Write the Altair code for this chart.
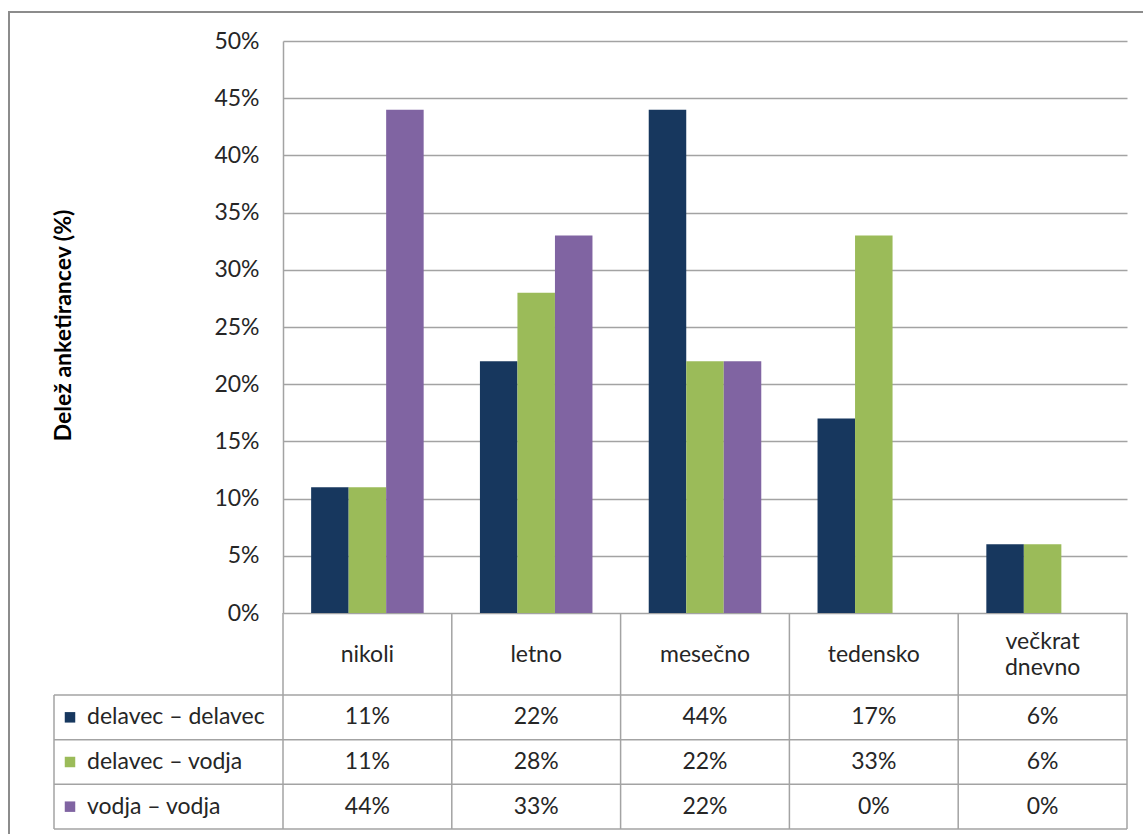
import altair as alt
import pandas as pd

categories = ["nikoli", "letno", "mesečno", "tedensko", "večkrat dnevno"]
header_labels = ["nikoli", "letno", "mesečno", "tedensko", "večkrat\ndnevno"]
series = ["delavec – delavec", "delavec – vodja", "vodja – vodja"]
delavec_delavec = [11, 22, 44, 17, 6]
delavec_vodja = [11, 28, 22, 33, 6]
vodja_vodja = [44, 33, 22, 0, 0]
colors = ["#17375E", "#9BBB59", "#8064A2"]
y_ticks = [0, 0.05, 0.10, 0.15, 0.20, 0.25, 0.30, 0.35, 0.40, 0.45, 0.50]

values_by_series = [delavec_delavec, delavec_vodja, vodja_vodja]
rows = []
for s, vals in zip(series, values_by_series):
    for c, v in zip(categories, vals):
        rows.append({"cat": c, "series": s, "value": v / 100})
df = pd.DataFrame(rows)
hdr = pd.DataFrame({"cat": categories, "label": header_labels})
hdr_single = hdr[~hdr["label"].str.contains("\n")]
hdr_multi = hdr[hdr["label"].str.contains("\n")]
ser = pd.DataFrame({"series": series})

W, H = 844, 788
PLOT_H = 572
FONT = "Lato"
GRID = "#a3a3a3"
TXT = "#262626"

xscale = alt.Scale(domain=categories, paddingInner=0, paddingOuter=0)
rowscale = alt.Scale(domain=series, range=[654, 788], paddingInner=0, paddingOuter=0)
color_scale = alt.Scale(domain=series, range=colors)

bars = alt.Chart(df).mark_bar().encode(
    x=alt.X("cat:N", scale=xscale, axis=None, sort=categories),
    xOffset=alt.XOffset("series:N", scale=alt.Scale(domain=series, paddingInner=0, paddingOuter=0.75)),
    y=alt.Y("value:Q", scale=alt.Scale(domain=[0, 0.5], range=[PLOT_H, 0], nice=False),
            axis=alt.Axis(values=y_ticks, format=".0%", title="Delež anketirancev (%)",
                          grid=True, gridColor=GRID, gridWidth=1.5, domainColor=GRID, domainWidth=1.5,
                          ticks=False, labelPadding=24, labelFontSize=23, labelFont=FONT,
                          labelColor=TXT, titleFont=FONT, titleFontSize=23, titleFontWeight="bold",
                          titleColor="#000000", titleX=-220, titleY=284, titleAngle=270,
                          titleAlign="center", titleBaseline="middle")),
    color=alt.Color("series:N", scale=color_scale, legend=None),
)

# header row: category labels
header_text = alt.Chart(hdr_single).mark_text(font=FONT, fontSize=23, color=TXT,
                                              baseline="middle").encode(
    x=alt.X("cat:N", scale=xscale, sort=categories),
    y=alt.value(614),
    text="label:N",
)
header_text2 = alt.Chart(hdr_multi).mark_text(font=FONT, fontSize=23, color=TXT,
                                              lineBreak="\n", baseline="middle", lineHeight=26).encode(
    x=alt.X("cat:N", scale=xscale, sort=categories),
    y=alt.value(601),
    text="label:N",
)

# table values
cell_text = alt.Chart(df).mark_text(font=FONT, fontSize=23, color=TXT, baseline="middle").encode(
    x=alt.X("cat:N", scale=xscale, sort=categories),
    y=alt.Y("series:N", scale=rowscale, axis=None),
    text=alt.Text("value:Q", format=".0%"),
)

# legend keys in table
keys = alt.Chart(ser).mark_square(size=110, opacity=1).encode(
    x=alt.value(-213),
    y=alt.Y("series:N", scale=rowscale, axis=None),
    color=alt.Color("series:N", scale=color_scale, legend=None),
)
key_text = alt.Chart(ser).mark_text(font=FONT, fontSize=23, color=TXT, align="left",
                                    baseline="middle").encode(
    x=alt.value(-196),
    y=alt.Y("series:N", scale=rowscale, axis=None),
    text="series:N",
)

# table grid: horizontal row lines
row_lines = alt.Chart(ser).mark_rule(color=GRID, strokeWidth=1.5).encode(
    x=alt.value(-229), x2=alt.value(W),
    y=alt.Y("series:N", scale=rowscale, axis=None, bandPosition=0),
)
bottom_line = alt.Chart(ser.head(1)).mark_rule(color=GRID, strokeWidth=1.5).encode(
    x=alt.value(-229), x2=alt.value(W), y=alt.value(H),
)
# vertical column lines
col_lines = alt.Chart(hdr).mark_rule(color=GRID, strokeWidth=1.5).encode(
    x=alt.X("cat:N", scale=xscale, sort=categories, bandPosition=0),
    y=alt.value(PLOT_H), y2=alt.value(H),
)
edge_lines = alt.Chart(pd.DataFrame({"e": ["r"]})).mark_rule(color=GRID, strokeWidth=1.5).encode(
    x=alt.value(W), y=alt.value(PLOT_H), y2=alt.value(H),
)
left_line = alt.Chart(pd.DataFrame({"e": ["l"]})).mark_rule(color=GRID, strokeWidth=1.5).encode(
    x=alt.value(-229), y=alt.value(654), y2=alt.value(H),
)
# outer chart border
border = alt.Chart(pd.DataFrame({"e": ["b"]})).mark_rect(fill=None, fillOpacity=0, stroke="#8c8c8c",
                                                         strokeWidth=2).encode(
    x=alt.value(-274), x2=alt.value(W + 40), y=alt.value(-29), y2=alt.value(H + 40),
)

chart = alt.layer(
    border, bars, row_lines, bottom_line, col_lines, edge_lines, left_line,
    header_text, header_text2, cell_text, keys, key_text,
).resolve_scale(y="independent").properties(
    width=W, height=H,
    autosize=alt.AutoSizeParams(type="none"),
    padding={"left": 283, "top": 41, "right": 16, "bottom": 5},
    background="white",
).configure_view(stroke=None)

chart.save("out.html", embed_options={"renderer": "svg", "actions": False})
